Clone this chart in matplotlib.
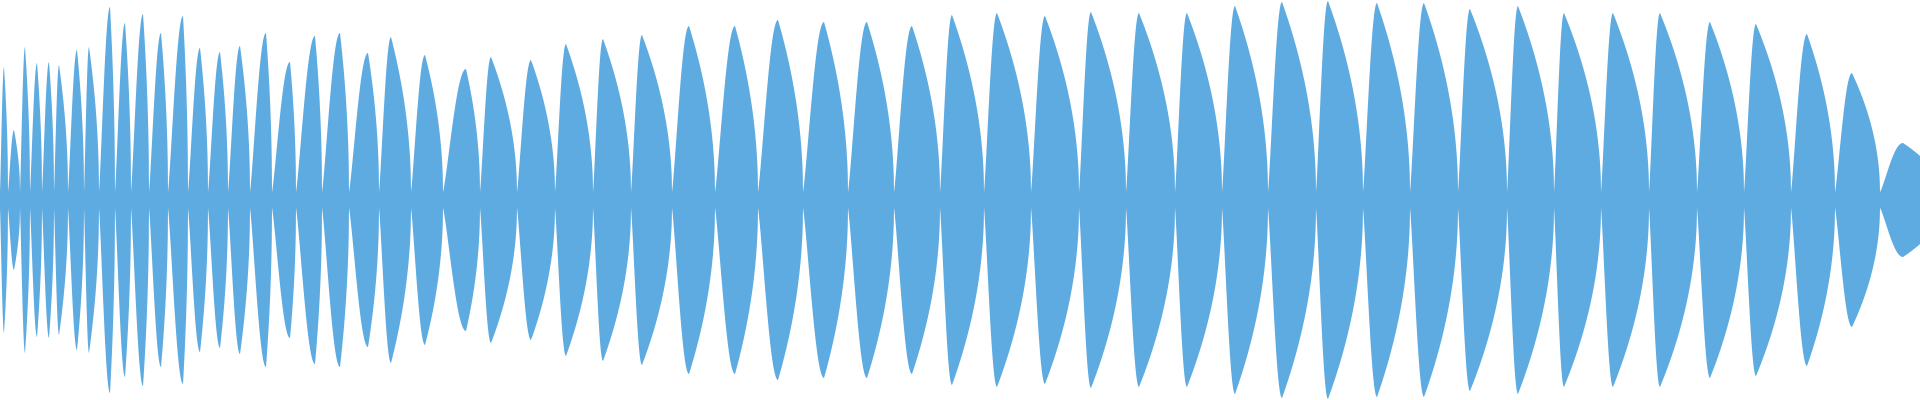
import numpy as np
import matplotlib
matplotlib.use("Agg")
import matplotlib.pyplot as plt

# envelope description: valleys (time), peaks (time, amplitude)
valley_t = [0, 8, 20, 30, 42, 54, 68, 84, 99, 115, 131, 149, 168, 188, 208, 228, 250, 272, 296, 322,
            349, 379, 411, 443, 480, 517, 555, 593, 631, 672, 715, 758, 803, 848, 894, 940, 984,
            1031, 1079, 1126, 1175, 1222, 1268, 1316, 1363, 1410, 1458, 1507, 1554, 1601, 1649,
            1697, 1744, 1791, 1835, 1880, 1940]
peak_t = [4, 14, 25, 37, 49, 59, 77, 89, 110, 125, 143, 161, 183, 200, 220, 240, 266, 290, 315, 340,
          368, 391, 425, 466, 491, 531, 566, 603, 642, 689, 735, 778, 824, 867, 912, 952, 997,
          1045, 1091, 1139, 1187, 1235, 1282, 1328, 1377, 1424, 1470, 1518, 1564, 1613, 1660,
          1710, 1756, 1807, 1852, 1903]
peak_amp = [133, 70, 153, 137, 138, 135, 150, 153, 193, 177, 186, 167, 184, 152, 148, 154, 167, 138, 164, 167,
            147, 163, 145, 131, 143, 140, 156, 161, 165, 174, 174, 180, 178, 178, 174, 185, 187,
            184, 188, 187, 187, 194, 198, 199, 197, 197, 191, 194, 187, 187, 187,
            178, 176, 166, 127, 57]
floor_amp = 8

t = np.arange(0, 1921, 0.25)
env = np.full_like(t, floor_amp, dtype=float)
for i, (p, A) in enumerate(zip(peak_t, peak_amp)):
    v0, v1 = valley_t[i], valley_t[i + 1]
    left = (t >= v0) & (t <= p)
    right = (t > p) & (t <= v1)
    ul = (t[left] - v0) / max(p - v0, 1)
    ur = (v1 - t[right]) / max(v1 - p, 1)
    env[left] = floor_amp + (A - floor_amp) * np.sin(np.pi / 2 * ul) ** 1.2
    env[right] = floor_amp + (A - floor_amp) * ur ** 0.5

fig = plt.figure(figsize=(19.2, 4), dpi=100)
ax = fig.add_axes([0, 0, 1, 1])
ax.fill_between(t, -env, env, color="#5DABE1", linewidth=0)
ax.set_xlim(0, 1920)
ax.set_ylim(-200, 200)
ax.axis("off")
fig.savefig("out.png", dpi=100)
